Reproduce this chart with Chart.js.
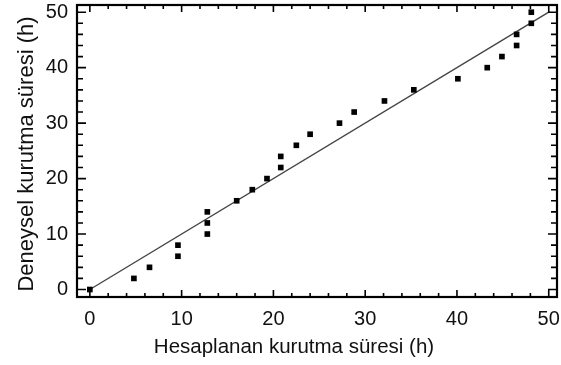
<!DOCTYPE html>
<html><head><meta charset="utf-8">
<script src="https://cdn.jsdelivr.net/npm/chart.js@4.4.1/dist/chart.umd.min.js"></script>
<style>html,body{margin:0;padding:0;background:#fff;}#wrap{width:561px;height:365px;}</style>
</head><body><div id="wrap"><canvas id="c" width="561" height="365"></canvas></div>
<script>
const calculatedHours = [0, 4.8, 6.5, 9.6, 9.6, 12.8, 12.8, 12.8, 16.0, 17.7, 19.3, 20.8, 20.8, 22.5, 24.0, 27.2, 28.8, 32.1, 35.3, 40.1, 43.3, 44.9, 46.5, 46.5, 48.1, 48.1];
const experimentalHours = [0, 2, 4, 6, 8, 10, 12, 14, 16, 18, 20, 22, 24, 26, 28, 30, 32, 34, 36, 38, 40, 42, 44, 46, 48, 50];
const fitLineX = [0, 50];
const fitLineY = [0, 50];
const majorTicks = [0, 10, 20, 30, 40, 50];
const minorTicks = [2, 4, 6, 8, 12, 14, 16, 18, 22, 24, 26, 28, 32, 34, 36, 38, 42, 44, 46, 48];
const xTitle = 'Hesaplanan kurutma süresi (h)';
const yTitle = 'Deneysel kurutma süresi (h)';

const FONT = '"Liberation Sans", Arial, sans-serif';

const framePlugin = {
  id: 'frame',
  afterDraw(chart) {
    const {ctx, chartArea: a, scales: {x, y}} = chart;
    ctx.save();
    ctx.strokeStyle = '#000';
    ctx.lineWidth = 1.6;
    ctx.beginPath();
    const tick = (v, lx, ly) => {
      const px = x.getPixelForValue(v);
      ctx.moveTo(px, a.bottom); ctx.lineTo(px, a.bottom - lx);
      ctx.moveTo(px, a.top); ctx.lineTo(px, a.top + lx);
      const py = y.getPixelForValue(v);
      ctx.moveTo(a.left, py); ctx.lineTo(a.left + ly, py);
      ctx.moveTo(a.right, py); ctx.lineTo(a.right - ly, py);
    };
    majorTicks.forEach(v => tick(v, 7, 9));
    minorTicks.forEach(v => tick(v, 4, 6));
    ctx.stroke();
    ctx.lineWidth = 2.2;
    ctx.strokeRect(a.left, a.top, a.right - a.left, a.bottom - a.top);
    ctx.fillStyle = '#111';
    ctx.textAlign = 'center';
    ctx.textBaseline = 'middle';
    ctx.font = '20.5px ' + FONT;
    ctx.fillText(xTitle, (a.left + a.right) / 2 - 23, a.bottom + 50);
    ctx.translate(a.left - 50, (a.top + a.bottom) / 2 + 3);
    ctx.rotate(-Math.PI / 2);
    ctx.font = '22px ' + FONT;
    ctx.fillText(yTitle, 0, 0);
    ctx.restore();
  }
};

new Chart(document.getElementById('c'), {
  type: 'scatter',
  data: {
    datasets: [
      {
        type: 'line',
        data: fitLineX.map((v, i) => ({x: v, y: fitLineY[i]})),
        borderColor: '#444',
        borderWidth: 1.4,
        pointRadius: 0,
        fill: false,
        order: 2
      },
      {
        data: calculatedHours.map((v, i) => ({x: v, y: experimentalHours[i]})),
        pointStyle: 'rect',
        pointRadius: 4,
        pointBorderWidth: 0,
        borderWidth: 0,
        backgroundColor: '#000',
        pointBackgroundColor: '#000',
        order: 1
      }
    ]
  },
  options: {
    responsive: false,
    devicePixelRatio: 1,
    animation: false,
    layout: {padding: {top: 5, right: 4, left: 0, bottom: 0}},
    plugins: {legend: {display: false}, tooltip: {enabled: false}},
    scales: {
      x: {
        type: 'linear', min: -1.4, max: 50.9,
        grid: {display: false, drawTicks: false},
        border: {display: false},
        afterBuildTicks: s => { s.ticks = majorTicks.map(v => ({value: v})); },
        afterFit: s => { s.height = 68; s.paddingLeft = 0; s.paddingRight = 0; },
        ticks: {padding: 10, color: '#111', font: {family: FONT, size: 20}}
      },
      y: {
        type: 'linear', min: -1.35, max: 51.3,
        grid: {display: false, drawTicks: false},
        border: {display: false},
        afterBuildTicks: s => { s.ticks = majorTicks.map(v => ({value: v})); },
        afterFit: s => { s.width = 77; s.paddingTop = 0; s.paddingBottom = 0; },
        ticks: {padding: 9, color: '#111', font: {family: FONT, size: 20}}
      }
    }
  },
  plugins: [framePlugin]
});
</script></body></html>
